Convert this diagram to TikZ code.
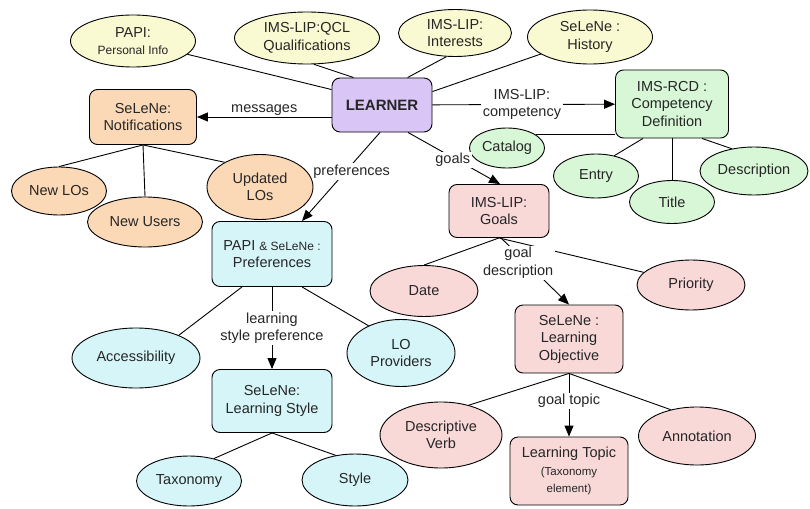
\documentclass[tikz,border=0pt]{standalone}
\usepackage{fontspec}
\setmainfont{Liberation Sans}
\usetikzlibrary{shapes.geometric,arrows.meta,calc}
\definecolor{cyel}{HTML}{FAFAD2}
\definecolor{cora}{HTML}{FCD9B6}
\definecolor{cpur}{HTML}{D9C6F7}
\definecolor{ccya}{HTML}{D6F5F9}
\definecolor{cgre}{HTML}{D7F7D7}
\definecolor{cpin}{HTML}{F9D8D8}
\newcommand\myfnt{\fontsize{14.5}{17.5}\selectfont}
\newcommand\mysmall{\fontsize{12}{14}\selectfont}
\newcommand\mytiny{\fontsize{11.5}{14}\selectfont}
\begin{document}
\begin{tikzpicture}[x=1pt,y=-1pt,
  base/.style={draw=black, line width=0.9pt, align=center, inner sep=0pt, font=\myfnt, text=black!85},
  ell/.style={base, ellipse},
  rbox/.style={base, rectangle, rounded corners=8pt},
  ln/.style={line width=0.9pt},
  arr/.style={ln, -{Triangle[length=11pt,width=9pt]}},
  lbl/.style={fill=white, inner sep=1.5pt, align=center, font=\myfnt, text=black!85}]
\useasboundingbox (0,0) rectangle (810,508);
\fill[white] (0,0) rectangle (810,508);

% top yellow ellipses
\node[ell, fill=cyel, minimum width=125, minimum height=52] (papi) at (133,41) {PAPI:\\\mysmall Personal Info};
\node[ell, fill=cyel, minimum width=145, minimum height=52] (qcl) at (307,38) {IMS-LIP:QCL\\Qualifications};
\node[ell, fill=cyel, minimum width=113, minimum height=47] (interests) at (455,33) {IMS-LIP:\\Interests};
\node[ell, fill=cyel, minimum width=125, minimum height=54] (history) at (590,37) {SeLeNe :\\History};

% learner
\node[rbox, fill=cpur, minimum width=100, minimum height=54, font=\fontsize{15}{18}\selectfont\bfseries] (learner) at (382,105) {LEARNER};

% notifications
\node[rbox, fill=cora, minimum width=107, minimum height=55] (notif) at (143,117) {SeLeNe:\\Notifications};
\node[ell, fill=cora, minimum width=95, minimum height=48] (newlos) at (59,191) {New LOs};
\node[ell, fill=cora, minimum width=115, minimum height=50] (newusers) at (145,222) {New Users};
\node[ell, fill=cora, minimum width=106, minimum height=65] (updated) at (260,187) {Updated\\LOs};

% preferences
\node[rbox, fill=ccya, minimum width=120, minimum height=65] (pref) at (272,254) {PAPI \mysmall\& SeLeNe :\\Preferences};
\node[ell, fill=ccya, minimum width=128, minimum height=60] (access) at (136,358) {Accessibility};
\node[ell, fill=ccya, minimum width=108, minimum height=67] (lop) at (401,353) {LO\\Providers};
\node[rbox, fill=ccya, minimum width=120, minimum height=63] (lstyle) at (272,401) {SeLeNe:\\Learning Style};
\node[ell, fill=ccya, minimum width=105, minimum height=50] (taxonomy) at (189,481) {Taxonomy};
\node[ell, fill=ccya, minimum width=106, minimum height=52] (style) at (355,480) {Style};

% competency
\node[rbox, fill=cgre, minimum width=113, minimum height=68] (rcd) at (672,104) {IMS-RCD :\\Competency\\Definition};
\node[ell, fill=cgre, minimum width=75, minimum height=40] (catalog) at (507,148) {Catalog};
\node[ell, fill=cgre, minimum width=85, minimum height=44] (entry) at (596,176) {Entry};
\node[ell, fill=cgre, minimum width=85, minimum height=43] (title) at (672,202) {Title};
\node[ell, fill=cgre, minimum width=108, minimum height=48] (description) at (754,171) {Description};

% goals
\node[rbox, fill=cpin, minimum width=100, minimum height=53] (goals) at (499,211) {IMS-LIP:\\Goals};
\node[ell, fill=cpin, minimum width=108, minimum height=51] (date) at (424,291) {Date};
\node[ell, fill=cpin, minimum width=108, minimum height=50] (priority) at (691,285) {Priority};
\node[rbox, fill=cpin, minimum width=108, minimum height=68] (lobj) at (569,339) {SeLeNe :\\Learning\\Objective};
\node[ell, fill=cpin, minimum width=122, minimum height=66] (descverb) at (441,435) {Descriptive\\Verb};
\node[ell, fill=cpin, minimum width=117, minimum height=58] (annotation) at (697,436) {Annotation};
\node[rbox, fill=cpin, minimum width=118, minimum height=68] (ltopic) at (569,471) {Learning Topic\\\mytiny (Taxonomy\\\mytiny element)};

% connectors: learner attributes
\draw[ln] (papi) -- ($(learner.north west)+(0,12)$);
\draw[ln] (qcl.285) -- ($(learner.north west)+(22,0)$);
\draw[ln] (interests.250) -- ($(learner.north west)+(76,0)$);
\draw[ln] (history) -- ($(learner.north east)+(0,14)$);

% learner relations
\draw[arr] (learner.west |- notif.east) -- (notif.east)
  node[lbl, midway, yshift=7pt] {messages};
\draw[arr] ($(learner.south)+(-2,0)$) -- ($(pref.north)+(30,0)$)
  node[lbl, pos=0.44, xshift=6pt] {preferences};
\draw[arr] (learner) -- (rcd)
  node[lbl, pos=0.49] {IMS-LIP:\\competency};
\draw[arr] ($(learner.south)+(26,0)$) -- ($(goals.north)+(1,0)$)
  node[lbl, pos=0.53, xshift=-4pt] {goals};

% notifications
\draw[ln] (notif.south) -- (newlos.north);
\draw[ln] (notif.south) -- (newusers.north);
\draw[ln] (notif.south) -- (updated.145);

% preferences
\draw[ln] ($(pref.south)+(-30,0)$) -- (access.28);
\draw[ln] ($(pref.south)+(30,0)$) -- (lop.140);
\draw[arr] (pref.south) -- (lstyle.north)
  node[lbl, midway] {learning\\style preference};
\draw[ln] (lstyle.south) -- (taxonomy.42);
\draw[ln] (lstyle.south) -- (style.128);

% competency
\draw[ln] (catalog.25) -- (rcd.west |- catalog.25);
\draw[ln] ($(rcd.south)+(-29,0)$) -- (entry.48);
\draw[ln] (rcd.south) -- (title.north);
\draw[ln] ($(rcd.south)+(30,0)$) -- (description.135);

% goals
\draw[ln] (goals.south) -- (date.north);
\draw[ln] (goals.south) -- (priority.165);
\draw[arr] ($(goals.south)+(2,0)$) -- (lobj.north)
  node[lbl, pos=0.37, xshift=-8pt] {goal\\description};
\draw[ln] (lobj.south) -- (descverb.47);
\draw[ln] (lobj.south) -- (annotation.135);
\draw[arr] (lobj.south) -- (ltopic.north)
  node[lbl, midway, yshift=4pt] {goal topic};
\end{tikzpicture}
\end{document}
